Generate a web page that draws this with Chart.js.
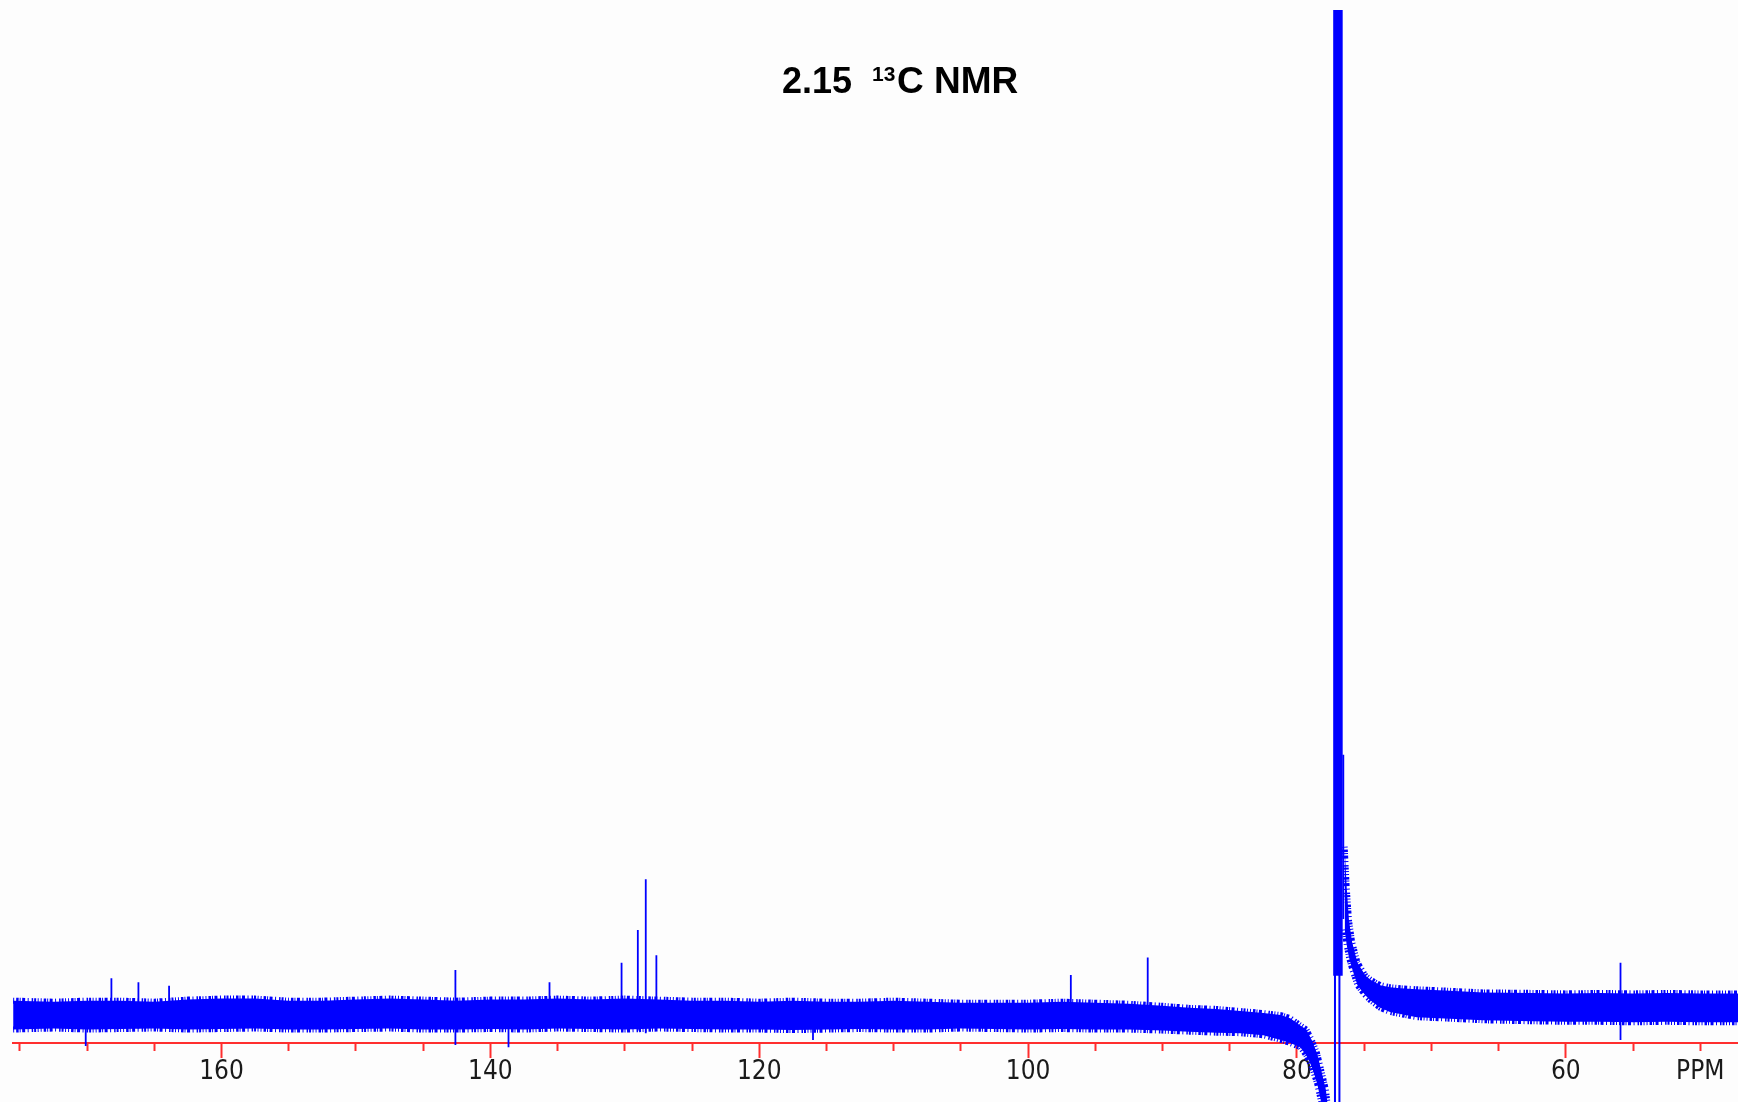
<!DOCTYPE html>
<html>
<head>
<meta charset="utf-8">
<title>2.15 13C NMR</title>
<script src="https://cdn.jsdelivr.net/npm/chart.js@4.4.1/dist/chart.umd.min.js"></script>
<style>
  html, body { margin: 0; padding: 0; background: #fdfdfd; }
  .wrap { position: relative; width: 1738px; height: 1102px; }
</style>
</head>
<body>
<div class="wrap"><canvas id="nmr"></canvas></div>
<script>
// Banda de ruido, lado izquierdo del pico del disolvente
const leftPpm = [175.5, 172.5, 170, 167.5, 165, 162.5, 160, 157.5, 155, 152.5,
  150, 147.5, 145, 142.5, 140, 137.5, 135, 132.5, 130, 127.5,
  125, 122.5, 120, 117.5, 115, 112.5, 110, 107.5, 105, 102.5,
  100, 97.5, 95, 92.5, 90, 88, 86, 84.2, 82.5, 81.2,
  80.5, 79.75, 79.3, 78.9, 78.5, 78.2, 77.85, 77.74, 77.6, 77.45];
const leftUpper = [4.1, 4.0, 4.1, 4.1, 4.0, 4.2, 4.3, 4.3, 4.1, 4.1,
  4.2, 4.3, 4.2, 4.1, 4.2, 4.2, 4.3, 4.2, 4.3, 4.2,
  4.1, 4.1, 4.0, 4.1, 4.0, 4.0, 4.1, 4.0, 3.9, 3.9,
  3.9, 4.0, 3.9, 3.8, 3.6, 3.4, 3.3, 3.1, 2.9, 2.7,
  2.4, 1.7, 1.3, 0.3, -1.0, -2.6, -4.5, -5.7, -7.5, -10];
const leftLower = [1.3, 1.4, 1.3, 1.35, 1.4, 1.3, 1.35, 1.4, 1.3, 1.3,
  1.35, 1.4, 1.3, 1.3, 1.35, 1.3, 1.4, 1.35, 1.3, 1.4,
  1.35, 1.3, 1.3, 1.25, 1.3, 1.35, 1.3, 1.3, 1.4, 1.35,
  1.3, 1.35, 1.3, 1.3, 1.2, 1.1, 1.0, 0.95, 0.75, 0.3,
  0.0, -0.4, -1.2, -2.3, -3.9, -5.7, -7.0, -7.5, -9.5, -12];

// Banda de ruido, lado derecho (cola que decae tras el CDCl3)
const rightPpm = [76.45, 76.3, 76.13, 75.9, 75.5, 74.9, 74.5, 73.8, 73.08,
  72.3, 71.09, 68.61, 66.16, 62.5, 60, 57.5, 55, 52.5, 50, 47.19];
const rightUpper = [19.0, 15.1, 11.9, 9.8, 7.8, 6.5, 6.1, 5.6, 5.4,
  5.3, 5.2, 5.05, 4.9, 4.85, 4.8, 4.85, 4.8, 4.85, 4.8, 4.8];
const rightLower = [11, 9.5, 8.3, 7.2, 5.6, 4.6, 4.1, 3.4, 3.0,
  2.8, 2.5, 2.35, 2.2, 2.1, 2.05, 2.05, 2.0, 2.05, 2.0, 2.0];

// Señales finas (las tres últimas son picos de ruido hacia abajo)
const peakPpm  = [168.19, 166.18, 163.9, 142.6, 135.6, 130.24, 129.03, 128.44, 127.65, 96.82, 91.1, 76.55, 55.93, 170.1, 138.65, 116.0];
const peakLow  = [1.4, 1.4, 1.4, -0.2, 1.4, 1.4, 1.2, 0.95, 1.4, 1.4, 1.4, 12, 0.3, -0.3, -0.4, 0.3];
const peakHigh = [6.26, 5.88, 5.55, 7.07, 5.88, 7.78, 10.94, 15.85, 8.49, 6.58, 8.27, 27.9, 7.78, 2.5, 2.5, 2.5];

// Disolvente CDCl3: bloque saturado + dos líneas que bajan del eje
const solventBarPpm = [76.95];
const solventBarLow = [6.5];
const solventBarHigh = [110];
const solventLinePpm = [77.17, 76.84];
const solventLineLow = [-12, -12];
const solventLineHigh = [8, 8];

// Eje
const tickValues = [160, 140, 120, 100, 80, 60, 50];
const tickLabels = ['160', '140', '120', '100', '80', '60', 'PPM'];
const xMin = 47.19, xMax = 175.51;
const yMin = -5.712, yMax = 100;

// ─── Helpers ─────────────────────────────────────────
const BLUE = '#0000ff';
const RED = '#ff2e2e';
// trazo discontinuo irregular para que el borde de la banda se vea "ruidoso"
const NOISE_DASH = [1, 2, 2.5, 1, 1, 1.5, 3, 2.5, 1, 3, 1.5, 1, 2, 1.5, 1, 2];

const toPts = (xs, ys) => xs.map((x, i) => ({ x, y: ys[i] }));
const toSticks = (xs, lo, hi) => xs.flatMap((x, i) => [
  { x, y: lo[i] }, { x, y: hi[i] }, { x, y: null },
]);
const isMajor = (v) => Math.round(v) % 20 === 0 && Math.round(v) !== 0;

const band = (label, data, fill) => ({
  label, data, fill,
  borderColor: BLUE, backgroundColor: BLUE,
  borderWidth: 6, borderDash: NOISE_DASH, borderCapStyle: 'butt',
  pointRadius: 0, tension: 0,
  clip: { left: 0, right: 0, top: 0, bottom: false },
});
const sticks = (label, data, width) => ({
  label, data, fill: false,
  borderColor: BLUE, borderWidth: width, pointRadius: 0,
  spanGaps: false, borderCapStyle: 'butt',
  clip: { left: 0, right: 0, top: 0, bottom: false },
});

// ─── Título (con superíndice) ────────────────────────
const titlePlugin = {
  id: 'nmrTitle',
  afterDraw(chart) {
    const ctx = chart.ctx;
    const fam = '"Liberation Sans", Arial, Helvetica, sans-serif';
    ctx.save();
    ctx.fillStyle = '#000';
    ctx.textAlign = 'left';
    ctx.textBaseline = 'alphabetic';
    ctx.font = 'bold 36px ' + fam;
    ctx.fillText('2.15', 782, 93);
    ctx.font = 'bold 21px ' + fam;
    ctx.fillText('13', 872, 81);
    ctx.font = 'bold 37px ' + fam;
    ctx.fillText('C NMR', 897, 93);
    ctx.restore();
  },
};

new Chart(document.getElementById('nmr'), {
  type: 'line',
  data: {
    datasets: [
      band('izq-sup', toPts(leftPpm, leftUpper), '+1'),
      band('izq-inf', toPts(leftPpm, leftLower), false),
      band('der-sup', toPts(rightPpm, rightUpper), '+1'),
      band('der-inf', toPts(rightPpm, rightLower), false),
      sticks('picos', toSticks(peakPpm, peakLow, peakHigh), 1.8),
      sticks('CDCl3', toSticks(solventBarPpm, solventBarLow, solventBarHigh), 9.5),
      sticks('CDCl3-lineas', toSticks(solventLinePpm, solventLineLow, solventLineHigh), 2),
    ],
  },
  options: {
    responsive: true,
    maintainAspectRatio: false,
    animation: false,
    events: [],
    layout: { padding: { left: 13, right: 0, top: 10, bottom: 0 } },
    plugins: { legend: { display: false }, tooltip: { enabled: false } },
    scales: {
      y: { type: 'linear', display: false, min: yMin, max: yMax },
      x: {
        type: 'linear',
        reverse: true,
        min: xMin,
        max: xMax,
        position: { y: 0 },
        z: 1,
        border: { display: true, color: RED, width: 2 },
        grid: {
          display: true,
          drawOnChartArea: false,
          drawTicks: true,
          tickLength: 14,
          tickWidth: 2,
          tickColor: RED,
          tickBorderDash: (c) => (c.tick && isMajor(c.tick.value) ? [] : [7, 40]),
        },
        ticks: {
          stepSize: 5,
          includeBounds: false,
          autoSkip: false,
          maxRotation: 0,
          padding: 0,
          color: '#1a1a1a',
          font: { family: "'Liberation Sans Narrow', 'Arial Narrow', 'DejaVu Sans Condensed', sans-serif", size: 26 },
          callback: (v) => {
            const i = tickValues.indexOf(Math.round(v));
            return i >= 0 ? tickLabels[i] : '';
          },
        },
      },
    },
  },
  plugins: [titlePlugin],
});
</script>
</body>
</html>
